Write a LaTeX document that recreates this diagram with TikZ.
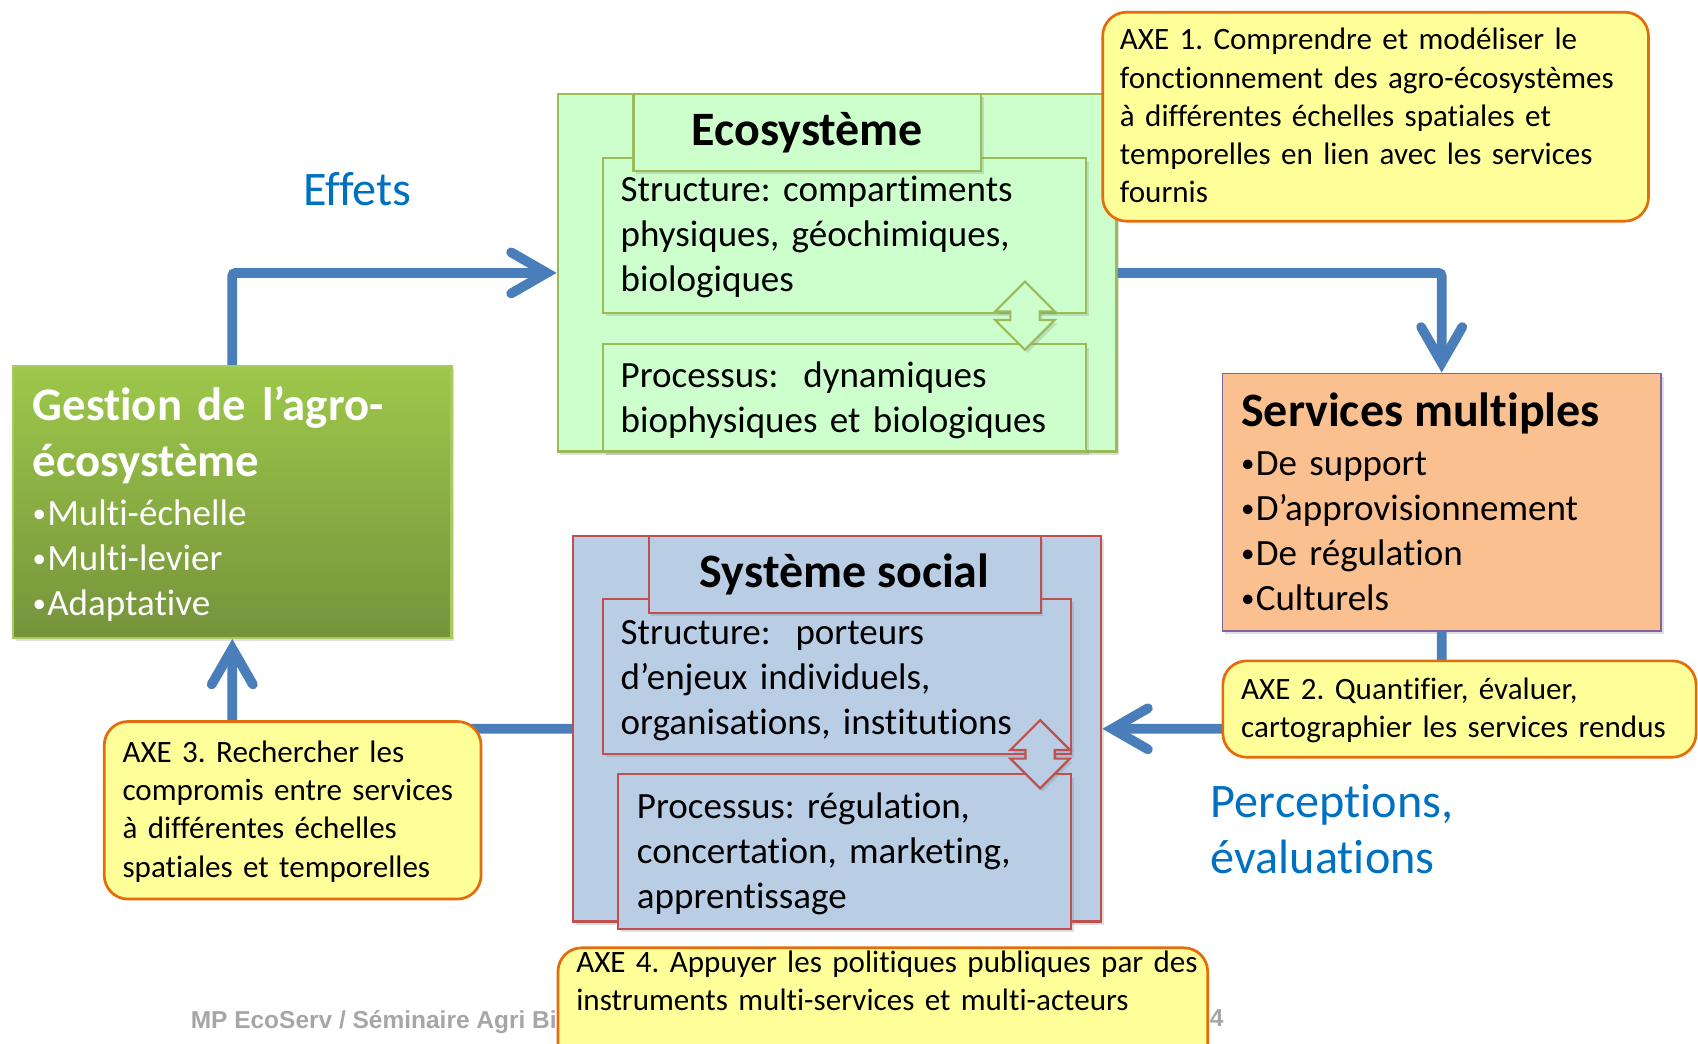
\documentclass[tikz,border=0pt]{standalone}
\usepackage{fontspec}
\setmainfont{Carlito}[Ligatures=NoCommon]
\newfontfamily\footfont{Liberation Sans}
\usetikzlibrary{arrows.meta,calc,shadows}
\frenchspacing
\definecolor{ecofill}{HTML}{CCFFCC}
\definecolor{ecoline}{HTML}{9BBB59}
\definecolor{socfill}{HTML}{B9CDE5}
\definecolor{socline}{HTML}{C0504D}
\definecolor{servfill}{HTML}{FAC090}
\definecolor{servline}{HTML}{8064A2}
\definecolor{gesttop}{HTML}{9DC84A}
\definecolor{gestbot}{HTML}{76933C}
\definecolor{gestline}{HTML}{A6CB5E}
\definecolor{axefill}{HTML}{FFFF99}
\definecolor{axeline}{HTML}{E46C0A}
\definecolor{arrowc}{HTML}{4A7EBB}
\definecolor{labblue}{HTML}{0070C0}
\definecolor{footgray}{HTML}{A6A6A6}
\newcommand\bul{\raisebox{2.5pt}{\fontsize{25}{25}\selectfont•}\kern1pt}
\newcommand\dblarr[2]{%
  \path[#2] ($(#1)+(0,-31.5)$) -- ++(27.5,27.5) -- ++(-14,0) -- ++(0,8) -- ++(14,0)
    -- ($(#1)+(0,31.5)$) -- ++(-27.5,-27.5) -- ++(14,0) -- ++(0,-8) -- ++(-14,0) -- cycle;}
\begin{document}
\frenchspacing
\begin{tikzpicture}[x=1pt,y=-1pt,
  shad/.style={drop shadow={shadow xshift=2.5pt,shadow yshift=-3pt,opacity=0.25}},
  box/.style={draw, line width=2pt, inner sep=0pt, anchor=north west, shad},
  ecob/.style={box, fill=ecofill, draw=ecoline},
  socb/.style={box, fill=socfill, draw=socline},
  ecodia/.style={draw=ecoline, fill=ecofill, line width=2pt, shad},
  socdia/.style={draw=socline, fill=socfill, line width=2pt, shad},
  axe/.style={draw=axeline, fill=axefill, line width=2.5pt, rounded corners=22pt, inner sep=0pt, anchor=north west},
  bt/.style={font=\fontsize{34.2}{41.5}\selectfont, anchor=base west, inner sep=0pt, align=left, text width=520pt},
  axetxt/.style={font=\fontsize{28.7}{35.3}\selectfont, anchor=base west, inner sep=0pt, align=left, text width=520pt},
  ttl/.style={font=\fontsize{44.3}{52}\selectfont\bfseries},
  lab/.style={font=\fontsize{44.5}{52}\selectfont, text=labblue, inner sep=0pt},
  flow/.style={draw=arrowc, line width=9pt, rounded corners=3pt,
     -{Straight Barb[length=33pt,width=38pt,line cap=round]}},
  footer/.style={font=\footfont\bfseries\fontsize{22.6}{26}\selectfont, text=footgray, inner sep=0pt, anchor=base west}
]
\useasboundingbox (0,0) rectangle (1568,964);

% footer (partly hidden)
\node[footer] (foot) at (176,950) {MP EcoServ / Séminaire Agri Bio};
\node[footer] (pnum) at (1117,948) {4};

% Ecosystem
\node[ecob, minimum width=516pt, minimum height=330pt] (eco) at (514,86) {};
\node[ecob, minimum width=446pt, minimum height=143pt] (ecoS) at (556,145) {};
\node[ecob, minimum width=321pt, minimum height=71pt] (ecoT) at (584,86) {};
\node[ttl] (ecoTt) at (ecoT.center) {Ecosystème};
\node[ecob, minimum width=446pt, minimum height=99pt] (ecoP) at (556,317) {};
\coordinate (ecoD) at (946.5,291.5);
\dblarr{ecoD}{ecodia}
\node[bt] (ecoSt) at (573,186) {Structure: compartiments\\physiques, géochimiques,\\biologiques};
\node[bt] (ecoPt) at (573,358) {Processus:\ \ dynamiques\\biophysiques et biologiques};

% Social system
\node[socb, minimum width=488pt, minimum height=356pt] (soc) at (528,494) {};
\node[socb, minimum width=432pt, minimum height=143pt] (socS) at (556,552) {};
\node[socb, minimum width=362pt, minimum height=71pt] (socT) at (598,494) {};
\node[ttl] (socTt) at (socT.center) {Système social};
\node[socb, minimum width=418pt, minimum height=143pt] (socP) at (570,714) {};
\coordinate (socD) at (960.5,696.5);
\dblarr{socD}{socdia}
\node[bt] (socSt) at (573,595) {Structure:\ \ porteurs\\d’enjeux individuels,\\organisations, institutions};
\node[bt] (socPt) at (588,756) {Processus: régulation,\\concertation, marketing,\\apprentissage};

% Gestion
\node[box, draw=gestline, top color=gesttop, bottom color=gestbot, minimum width=405pt, minimum height=251pt] (gest) at (11,337) {};
\node[font=\fontsize{43.2}{52}\selectfont\bfseries, text=white, anchor=base west, inner sep=0pt, align=left, text width=400pt] (gestT) at (30,388) {Gestion de l’agro-\\écosystème};
\node[bt, text=white] (gestL) at (30,485) {\bul Multi-échelle\\\bul Multi-levier\\\bul Adaptative};

% Services
\node[box, draw=servline, fill=servfill, line width=1.6pt, minimum width=405pt, minimum height=238pt] (serv) at (1128,344) {};
\node[ttl, anchor=base west, inner sep=0pt] (servT) at (1146,394) {Services multiples};
\node[bt] (servL) at (1146,439) {\bul De support\\\bul D’approvisionnement\\\bul De régulation\\\bul Culturels};

% connectors
\draw[flow] (gest.north) |- (eco.west);
\draw[flow] (eco.east) -| (serv.north);
\draw[flow] (serv.south) |- (soc.east);
\draw[flow] (soc.west) -| (gest.south);

% labels
\node[lab] (effets) at (330,175) {Effets};
\node[lab, anchor=base west, align=left, text width=300pt] (percep) at (1118,755) {Perceptions,\\évaluations};

% AXE boxes
\node[axe, minimum width=504pt, minimum height=193pt] (axe1) at (1017,10) {};
\node[axetxt] (axe1t) at (1034,46) {AXE 1. Comprendre et modéliser le\\fonctionnement des agro-écosystèmes\\à différentes échelles spatiales et\\temporelles en lien avec les services\\fournis};
\node[axe, minimum width=437pt, minimum height=89pt] (axe2) at (1128,609) {};
\node[axetxt] (axe2t) at (1146,646) {AXE 2. Quantifier, évaluer,\\cartographier les services rendus};
\node[axe, minimum width=348pt, minimum height=164pt] (axe3) at (95,665) {};
\node[axetxt] (axe3t) at (113,704) {AXE 3. Rechercher les\\compromis entre services\\à différentes échelles\\spatiales et temporelles};
\node[axe, minimum width=600pt, minimum height=110pt] (axe4) at (514,874) {};
\node[axetxt, text width=620pt] (axe4t) at (532,898) {AXE 4. Appuyer les politiques publiques par des\\instruments multi-services et multi-acteurs};
\end{tikzpicture}
\end{document}
